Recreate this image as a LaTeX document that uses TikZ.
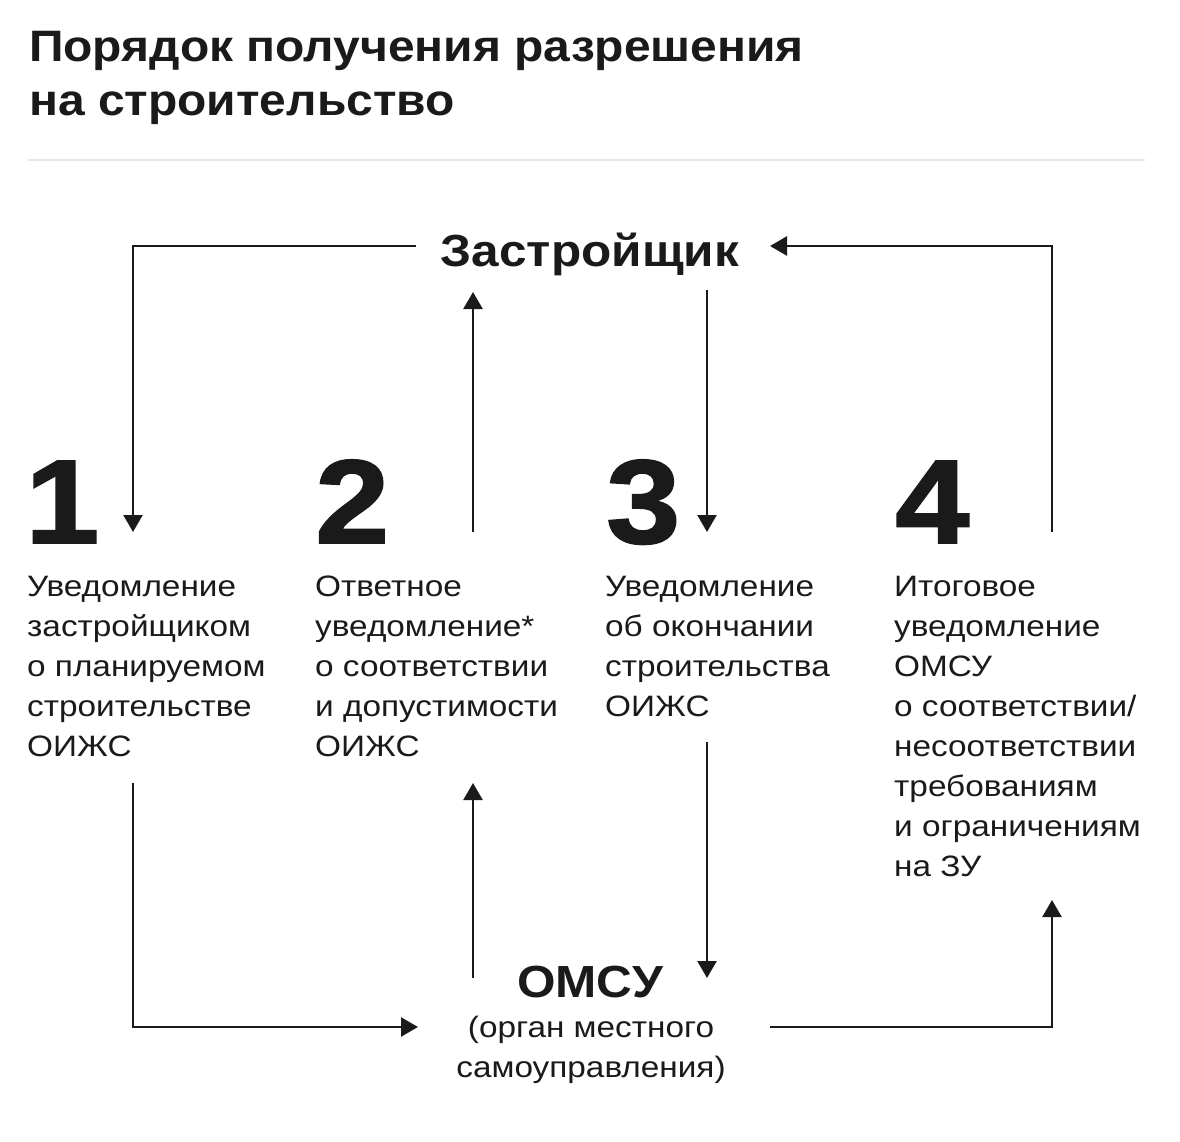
\documentclass[tikz,border=0pt]{standalone}
\usepackage{fontspec}
\setmainfont{Liberation Sans}
\newfontfamily\bodyfont[FakeStretch=1.13]{Liberation Sans}
\newfontfamily\ttlfont[FakeStretch=1.09]{Liberation Sans}
\newfontfamily\headfont[FakeStretch=1.10]{Liberation Sans}
\newfontfamily\digfont[FakeStretch=1.12,FakeBold=1.6]{Liberation Sans}
\usetikzlibrary{arrows.meta}
\definecolor{ink}{HTML}{1A1A1A}
\definecolor{rule}{HTML}{E6E6E6}
\begin{document}
\begin{tikzpicture}[x=1pt,y=-1pt,
  line width=2.4pt,
  arr/.style={draw=ink,-{Triangle[length=17pt,width=19pt]}},
  body/.style={anchor=north west,align=left,inner sep=0pt,text=ink,font=\bodyfont\fontsize{29.5}{40}\selectfont},
  digit/.style={anchor=base west,inner sep=0pt,text=ink,font=\digfont\fontsize{119}{119}\selectfont\bfseries},
  head/.style={inner sep=0pt,text=ink,font=\headfont\fontsize{45}{50}\selectfont\bfseries},
  ttl/.style={anchor=north west,align=left,inner sep=0pt,text=ink,font=\ttlfont\fontsize{44}{54}\selectfont\bfseries}]
\useasboundingbox[fill=white] (0,0) rectangle (1180,1142);

\node[ttl] (title) at (28,30) {Порядок получения разрешения\\на строительство};
\draw[rule,line width=2pt] (28,160) -- (1145,160);

\node[head,anchor=base] (zas) at (590,266) {Застройщик};
\node[head,anchor=base] (omsu) at (590,997) {ОМСУ};
\node[anchor=north,align=center,inner sep=0pt,text=ink,font=\bodyfont\fontsize{29.5}{40}\selectfont] (organ) at (591,1015) {(орган местного\\самоуправления)};

\node[digit] (d1) at (24,543) {1};
\node[digit] (d2) at (314,543) {2};
\node[digit] (d3) at (605,543) {3};
\node[digit] (d4) at (894,543) {4};

\node[body] (t1) at (26,575) {Уведомление\\застройщиком\\о планируемом\\строительстве\\ОИЖС};
\node[body] (t2) at (314,575) {Ответное\\уведомление*\\о соответствии\\и допустимости\\ОИЖС};
\node[body] (t3) at (604,575) {Уведомление\\об окончании\\строительства\\ОИЖС};
\node[body] (t4) at (893,575) {Итоговое\\уведомление\\ОМСУ\\о соответствии/\\несоответствии\\требованиям\\и ограничениям\\на ЗУ};

% connector end points
\coordinate (zL) at (416,246);
\coordinate (zR) at (770,246);
\coordinate (zB2) at (473,292);
\coordinate (zB3) at (707,290);
\coordinate (n1t) at (133,532);
\coordinate (n2t) at (473,532);
\coordinate (n3t) at (707,532);
\coordinate (n4t) at (1052,532);
\coordinate (n1b) at (133,783);
\coordinate (n2b) at (473,783);
\coordinate (n3b) at (707,742);
\coordinate (n4b) at (1052,900);
\coordinate (oL) at (418,1027);
\coordinate (oR) at (770,1027);
\coordinate (oT2) at (473,978);
\coordinate (oT3) at (707,978);

\draw[arr] (zL) -| (n1t);
\draw[arr] (n2t) -- (zB2);
\draw[arr] (zB3) -- (n3t);
\draw[arr] (n4t) |- (zR);
\draw[arr] (n1b) |- (oL);
\draw[arr] (oT2) -- (n2b);
\draw[arr] (n3b) -- (oT3);
\draw[arr] (oR) -| (n4b);
\end{tikzpicture}
\end{document}
